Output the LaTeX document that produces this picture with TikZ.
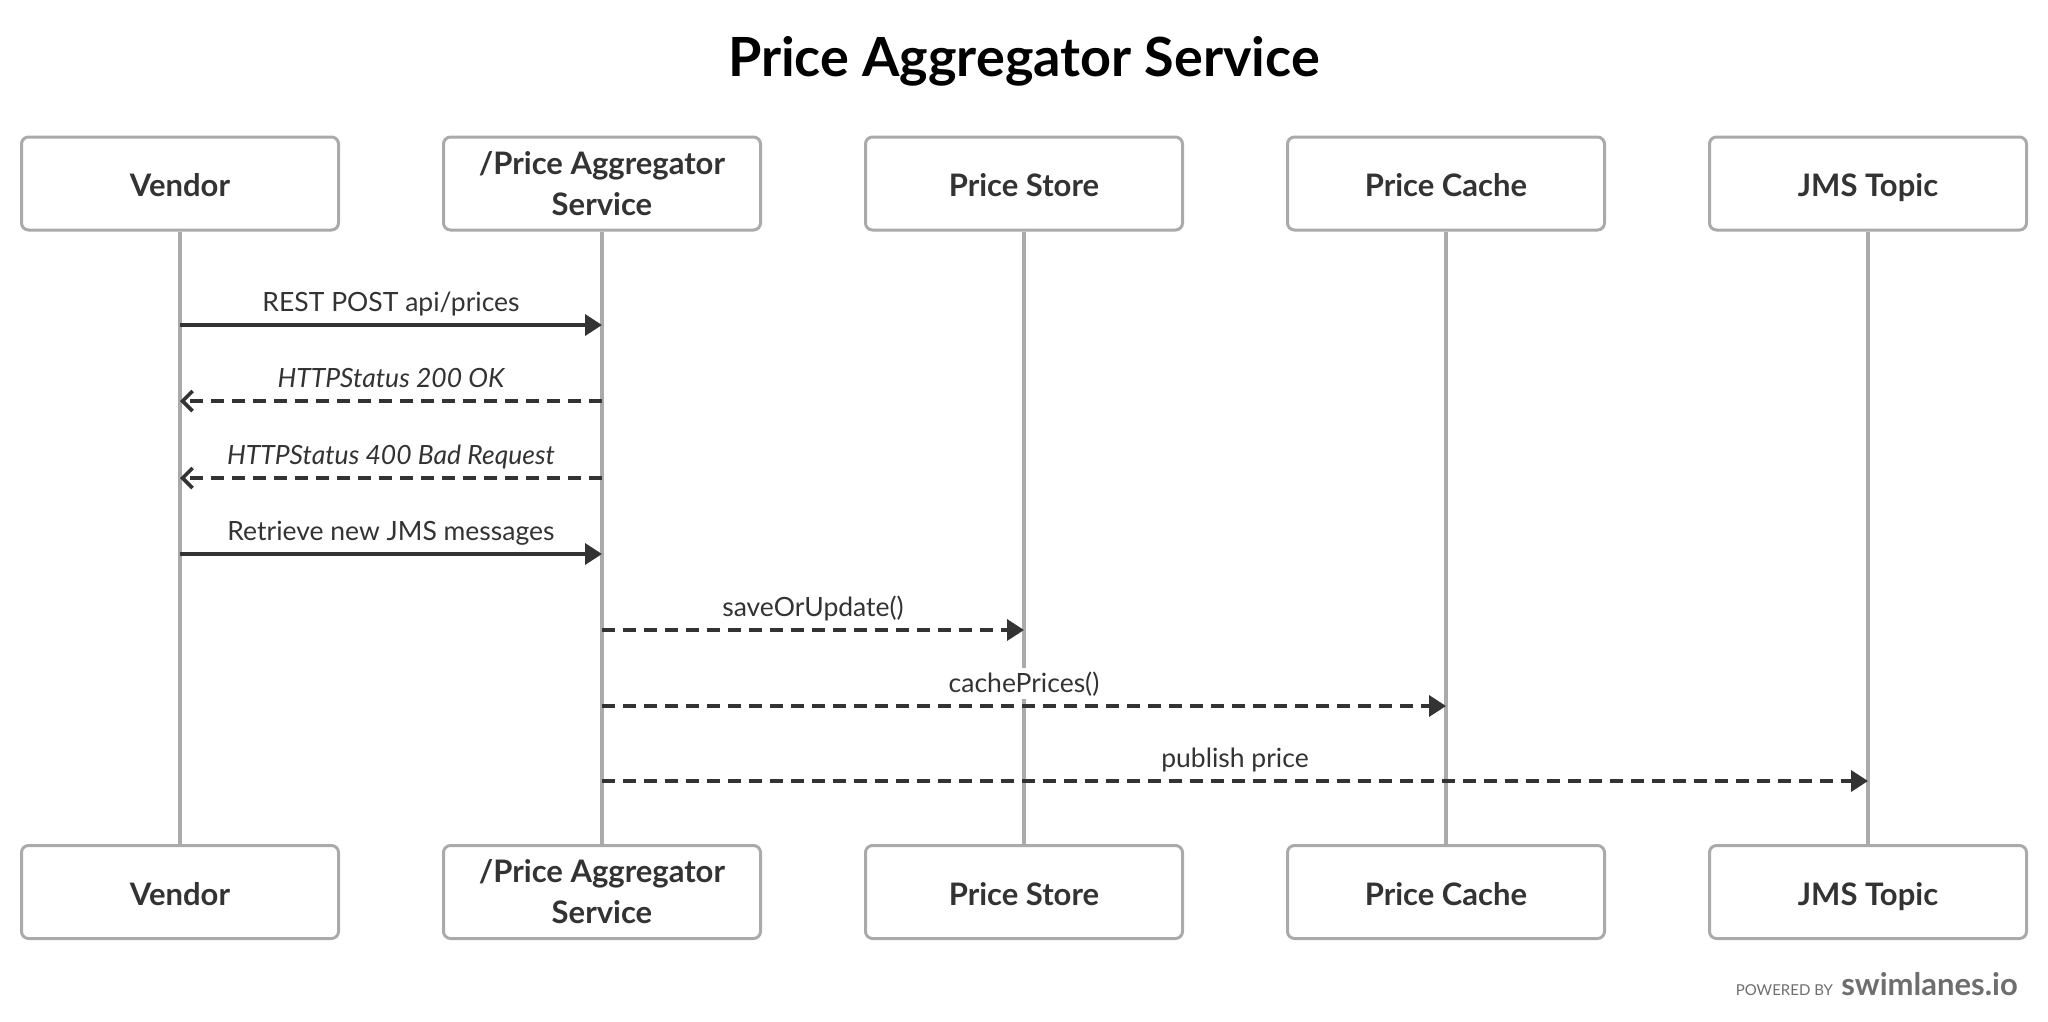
\documentclass[tikz,border=0pt]{standalone}
\usepackage{fontspec}
\setmainfont{Lato}
\usetikzlibrary{arrows.meta}
\definecolor{ink}{HTML}{333333}
\definecolor{lane}{HTML}{AAAAAA}
\definecolor{foot}{HTML}{6E6E6E}
\begin{document}
\begin{tikzpicture}[x=1pt,y=-1pt,
  actor/.style={draw=lane, line width=3pt, rounded corners=7pt, fill=white,
    minimum width=317pt, minimum height=93pt, align=center, inner sep=0pt,
    font=\fontsize{31}{41}\selectfont\bfseries, text=ink},
  oneline/.style={actor, text height=26pt, text depth=0pt},
  life/.style={draw=lane, line width=3.5pt},
  msg/.style={draw=ink, line width=3.6pt, -{Triangle[length=17pt,width=21pt]}},
  asyncmsg/.style={draw=ink, line width=3.6pt, dash pattern=on 13pt off 8pt, -{Triangle[length=17pt,width=21pt]}},
  retmsg/.style={draw=ink, line width=3.6pt, dash pattern=on 13pt off 8pt, -{Straight Barb[length=10pt,width=20pt]}},
  lbl/.style={font=\fontsize{26.5}{32}\selectfont, text=ink, fill=white, inner sep=3pt, anchor=base, yshift=14pt},
  ilbl/.style={lbl, font=\fontsize{26.5}{32}\selectfont\itshape}]
\useasboundingbox (0,0) rectangle (2048,1021);
\fill[white] (0,0) rectangle (2048,1021);

\node[font=\fontsize{54}{60}\selectfont\bfseries, text=black] (title) at (1024,61) {Price Aggregator Service};

% top actors
\node[oneline] (vT) at (180,183.5) {Vendor};
\node[actor] (aT) at (602,183.5) {/Price Aggregator\\Service};
\node[oneline] (sT) at (1024,183.5) {Price Store};
\node[oneline] (cT) at (1446,183.5) {Price Cache};
\node[oneline] (jT) at (1868,183.5) {JMS Topic};
% bottom actors
\node[oneline] (vB) at (180,892) {Vendor};
\node[actor] (aB) at (602,892) {/Price Aggregator\\Service};
\node[oneline] (sB) at (1024,892) {Price Store};
\node[oneline] (cB) at (1446,892) {Price Cache};
\node[oneline] (jB) at (1868,892) {JMS Topic};

% lifelines
\draw[life] (vT.south) -- (vB.north);
\draw[life] (aT.south) -- (aB.north);
\draw[life] (sT.south) -- (sB.north);
\draw[life] (cT.south) -- (cB.north);
\draw[life] (jT.south) -- (jB.north);

% message anchor points
\coordinate (v1) at (180,325);  \coordinate (a1) at (602,325);
\coordinate (v2) at (180,401);  \coordinate (a2) at (602,401);
\coordinate (v3) at (180,478);  \coordinate (a3) at (602,478);
\coordinate (v4) at (180,554);  \coordinate (a4) at (602,554);
\coordinate (a5) at (602,630);  \coordinate (s5) at (1024,630);
\coordinate (a6) at (602,706);  \coordinate (c6) at (1446,706);
\coordinate (a7) at (602,781);  \coordinate (j7) at (1868,781);

\draw[msg] (v1) -- (a1);
\draw[retmsg] (a2) -- (v2);
\draw[retmsg] (a3) -- (v3);
\draw[msg] (v4) -- (a4);
\draw[asyncmsg] (a5) -- (s5);
\draw[asyncmsg] (a6) -- (c6);
\draw[asyncmsg] (a7) -- (j7);

\path (v1) -- (a1) node[midway, lbl] (l1) {REST POST api/prices};
\path (v2) -- (a2) node[midway, ilbl] (l2) {HTTPStatus 200 OK};
\path (v3) -- (a3) node[midway, ilbl] (l3) {HTTPStatus 400 Bad Request};
\path (v4) -- (a4) node[midway, lbl] (l4) {Retrieve new JMS messages};
\path (a5) -- (s5) node[midway, lbl] (l5) {saveOrUpdate()};
\path (a6) -- (c6) node[midway, lbl] (l6) {cachePrices()};
\path (a7) -- (j7) node[midway, lbl] (l7) {publish price};

% footer
\node[anchor=base east, font=\fontsize{31}{34}\selectfont\bfseries, text=foot, inner sep=0pt] (sw) at (2018,995) {swimlanes.io};
\node[anchor=base east, font=\fontsize{15}{18}\selectfont, text=foot, inner sep=0pt] (pw) at ([xshift=-8pt]sw.base west) {POWERED BY};
\end{tikzpicture}
\end{document}
